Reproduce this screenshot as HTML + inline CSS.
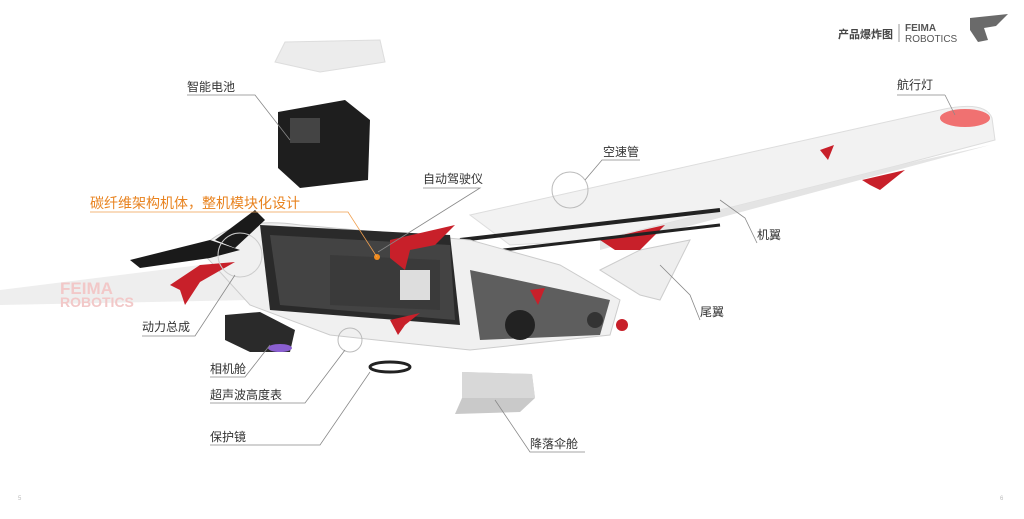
<!DOCTYPE html>
<html><head><meta charset="utf-8"><style>
html,body{margin:0;padding:0;background:#fff;}
svg{display:block;}
text{font-family:"Liberation Sans","Noto Sans CJK SC",sans-serif;}
</style></head><body>
<svg width="1024" height="519" viewBox="0 0 1024 519" xmlns="http://www.w3.org/2000/svg">
<rect width="1024" height="519" fill="#fff"/>
<!-- header logo -->
<text x="838" y="38" font-size="11" fill="#444" font-weight="bold">产品爆炸图</text>
<line x1="899" y1="24" x2="899" y2="42" stroke="#999" stroke-width="1"/>
<text x="905" y="31" font-size="10" fill="#555" font-weight="bold">FEIMA</text>
<text x="905" y="42" font-size="10" fill="#555">ROBOTICS</text>
<path d="M970 18 L1008 14 L996 26 L984 28 L988 40 L978 42 L970 30 Z" fill="#6a6a6a"/>

<!-- battery lid -->
<path d="M285 42 L380 40 L385 62 L320 72 L275 62 Z" fill="#ececec" stroke="#ddd"/>
<!-- battery -->
<path d="M278 112 L345 100 L370 120 L368 180 L300 188 L278 168 Z" fill="#1e1e1e"/>
<rect x="290" y="118" width="30" height="25" fill="#444"/>

<!-- right wing -->
<path d="M470 215 L940 110 Q985 100 992 118 L995 140 L900 165 L600 240 L510 245 Z" fill="#f2f2f2" stroke="#ddd"/>
<path d="M600 240 L900 165 L990 145 L600 250 Z" fill="#e4e4e4"/>
<ellipse cx="965" cy="118" rx="25" ry="9" fill="#f05a5a" opacity="0.85"/>
<path d="M820 150 L834 145 L828 160 Z" fill="#c8202a"/>
<path d="M862 180 L905 170 L880 190 L870 185 Z" fill="#c8202a"/>
<!-- tail -->
<path d="M600 270 L640 250 L690 240 L660 300 L640 295 Z" fill="#eee" stroke="#ccc"/>
<path d="M600 240 L665 225 L640 250 L615 250 Z" fill="#c8202a"/>
<!-- boom -->
<line x1="460" y1="240" x2="720" y2="210" stroke="#222" stroke-width="4"/>
<line x1="460" y1="255" x2="720" y2="225" stroke="#222" stroke-width="3"/>

<!-- left wing -->
<path d="M0 290 L200 265 L270 270 L250 300 L0 305 Z" fill="#eeeeee"/>
<text x="60" y="294" font-size="17" fill="#f2c8c8" font-weight="bold">FEIMA</text>
<text x="60" y="307" font-size="14" fill="#f2c8c8" font-weight="bold">ROBOTICS</text>

<!-- fuselage -->
<path d="M200 250 Q230 215 300 225 L470 240 L560 265 L620 300 L610 335 L470 350 L330 335 L250 305 Z" fill="#f0f0f0" stroke="#ccc"/>
<path d="M260 225 L450 235 L460 325 L270 310 Z" fill="#2a2a2a"/>
<path d="M270 235 L450 245 L455 320 L280 305 Z" fill="#555" opacity="0.6"/>
<path d="M330 255 L440 260 L440 310 L330 305 Z" fill="#3a3a3a"/>
<rect x="400" y="270" width="30" height="30" fill="#ddd"/>
<path d="M470 270 L610 300 L600 335 L480 340 Z" fill="#3a3a3a" opacity="0.8"/>
<circle cx="520" cy="325" r="15" fill="#222"/>
<circle cx="595" cy="320" r="8" fill="#333"/>
<circle cx="622" cy="325" r="6" fill="#c8202a"/>
<!-- propeller -->
<path d="M130 260 L210 240 L240 250 L210 258 L140 268 Z" fill="#1a1a1a"/>
<path d="M215 240 L255 210 L265 220 L235 248 Z" fill="#1a1a1a"/>
<!-- red ribbons -->
<path d="M170 285 L200 265 L235 262 L200 282 L185 305 L180 290 Z" fill="#c8202a"/>
<path d="M390 240 L455 225 L435 245 L410 250 L405 270 L390 258 Z" fill="#c8202a"/>
<path d="M390 320 L420 313 L405 325 L398 335 Z" fill="#c8202a"/>
<path d="M530 290 L545 288 L538 305 Z" fill="#c8202a"/>
<circle cx="240" cy="255" r="22" fill="none" stroke="#ccc"/>
<circle cx="570" cy="190" r="18" fill="none" stroke="#bbb"/>
<circle cx="350" cy="340" r="12" fill="none" stroke="#bbb"/>
<circle cx="377" cy="257" r="3" fill="#f08a1c"/>

<!-- camera -->
<path d="M225 315 L260 312 L295 330 L290 352 L250 352 L225 340 Z" fill="#2a2a2a"/>
<ellipse cx="280" cy="348" rx="12" ry="4" fill="#8a5fd0"/>
<!-- ring -->
<ellipse cx="390" cy="367" rx="20" ry="5" fill="none" stroke="#222" stroke-width="3"/>
<!-- parachute -->
<path d="M462 372 L532 374 L535 398 L520 412 L455 414 L462 398 Z" fill="#c9c9c9"/>
<path d="M462 372 L532 374 L535 398 L462 398 Z" fill="#d8d8d8"/>

<!-- leaders -->
<g stroke="#888" stroke-width="0.8" fill="none">
<polyline points="187,95 255,95 290,140"/>
<polyline points="945,95 897,95"/><polyline points="945,95 955,115"/>
<polyline points="640,160 602,160 585,180"/>
<polyline points="423,188 480,188 378,252"/>
<polyline points="757,243 745,218 720,200"/>
<polyline points="700,320 690,295 660,265"/>
<polyline points="142,336 195,336 235,275"/>
<polyline points="210,377 245,377 270,345"/>
<polyline points="210,403 305,403 345,350"/>
<polyline points="210,445 320,445 370,372"/>
<polyline points="585,452 530,452 495,400"/>
</g>
<polyline points="90,212 348,212 377,257" stroke="#f0a050" stroke-width="0.8" fill="none"/>

<!-- labels -->
<g font-size="12" fill="#333">
<text x="187" y="91">智能电池</text>
<text x="897" y="89">航行灯</text>
<text x="603" y="156">空速管</text>
<text x="423" y="183">自动驾驶仪</text>
<text x="757" y="239">机翼</text>
<text x="700" y="316">尾翼</text>
<text x="142" y="331">动力总成</text>
<text x="210" y="373">相机舱</text>
<text x="210" y="399">超声波高度表</text>
<text x="210" y="441">保护镜</text>
<text x="530" y="448">降落伞舱</text>
</g>
<text x="90" y="208" font-size="14" fill="#e8821e">碳纤维架构机体，整机模块化设计</text>
<text x="18" y="500" font-size="6" fill="#bbb">5</text>
<text x="1000" y="500" font-size="6" fill="#bbb">6</text>
</svg>
</body></html>
